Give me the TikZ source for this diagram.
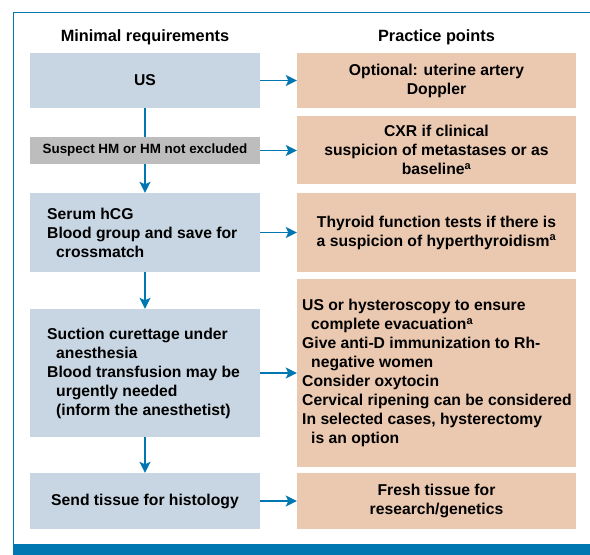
\documentclass[tikz,border=0pt]{standalone}
\usepackage{fontspec}
\setmainfont{Liberation Sans}
\usetikzlibrary{arrows.meta}
\definecolor{frameblue}{HTML}{0077B0}
\definecolor{leftfill}{HTML}{C8D6E3}
\definecolor{rightfill}{HTML}{EBC9B0}
\definecolor{grayfill}{HTML}{BDBDBD}
\begin{document}
\begin{tikzpicture}[x=1pt,y=-1pt,
  every node/.style={font=\bfseries\fontsize{15.7}{19}\selectfont, inner sep=0pt},
  leftbox/.style={fill=leftfill, minimum width=230pt},
  rightbox/.style={fill=rightfill, minimum width=279pt},
  graybox/.style={fill=grayfill, minimum width=230pt, minimum height=27pt, font=\bfseries\fontsize{13.4}{15}\selectfont},
  head/.style={font=\bfseries\fontsize{16.3}{19}\selectfont},
  flow/.style={draw=frameblue, line width=1.5pt, -{Stealth[length=11pt,width=11pt,inset=2.5pt]}},
  link/.style={draw=frameblue, line width=1.5pt}
]
\useasboundingbox (0,0) rectangle (590,555);
% outer frame and footer band
\draw[frameblue, line width=1.2pt] (13.5,544) -- (13.5,12.5) -- (590,12.5);
\fill[frameblue] (12.9,544) rectangle (590,555);

% column headings
\node[head] (hleft) at (145,37) {Minimal requirements};
\node[head] (hright) at (436.5,37) {Practice points};

% left column
\node[leftbox, minimum height=55pt] (us) at (145,80.5) {US};
\node[graybox] (hm) at (145,150.5) {Suspect HM or HM not excluded};
\node[leftbox, minimum height=79pt] (serum) at (145,232.5) {};
\node[anchor=west, align=left] (serumtxt) at (47,232.5)
  {Serum hCG\\Blood group and save for\\\hspace*{9pt}crossmatch};
\node[leftbox, minimum height=128pt] (suction) at (145,373) {};
\node[anchor=west, align=left] (suctiontxt) at (47,373)
  {Suction curettage under\\\hspace*{9pt}anesthesia\\Blood transfusion may be\\\hspace*{9pt}urgently needed\\\hspace*{9pt}(inform the anesthetist)};
\node[leftbox, minimum height=56pt] (send) at (145,501) {Send tissue for histology};

% right column
\node[rightbox, minimum height=55pt, align=center] (doppler) at (436.5,80.5)
  {Optional: uterine artery\\Doppler};
\node[rightbox, minimum height=68pt, align=center] (cxr) at (436.5,150)
  {CXR if clinical\\suspicion of metastases or as\\baseline\textsuperscript{a}};
\node[rightbox, minimum height=79pt, align=center] (thyroid) at (436.5,232.5)
  {Thyroid function tests if there is\\a suspicion of hyperthyroidism\textsuperscript{a}};
\node[rightbox, minimum height=188pt] (usr) at (436.5,373) {};
\node[anchor=west, align=left] (usrtxt) at (302,373)
  {US or hysteroscopy to ensure\\\hspace*{9pt}complete evacuation\textsuperscript{a}\\Give anti-D immunization to Rh-\\\hspace*{9pt}negative women\\Consider oxytocin\\Cervical ripening can be considered\\In selected cases, hysterectomy\\\hspace*{9pt}is an option};
\node[rightbox, minimum height=56pt, align=center] (fresh) at (436.5,501)
  {Fresh tissue for\\research/genetics};

% vertical flow
\draw[link] (us.south) -- (hm.north);
\draw[flow] (hm.south) -- (serum.north);
\draw[flow] (serum.south) -- (suction.north);
\draw[flow] (suction.south) -- (send.north);

% horizontal links to practice points
\draw[flow] (us.east) -- (us.east -| doppler.west);
\draw[flow] (hm.east) -- (hm.east -| cxr.west);
\draw[flow] (serum.east) -- (serum.east -| thyroid.west);
\draw[flow] (suction.east) -- (suction.east -| usr.west);
\draw[flow] (send.east) -- (send.east -| fresh.west);
\end{tikzpicture}
\end{document}
